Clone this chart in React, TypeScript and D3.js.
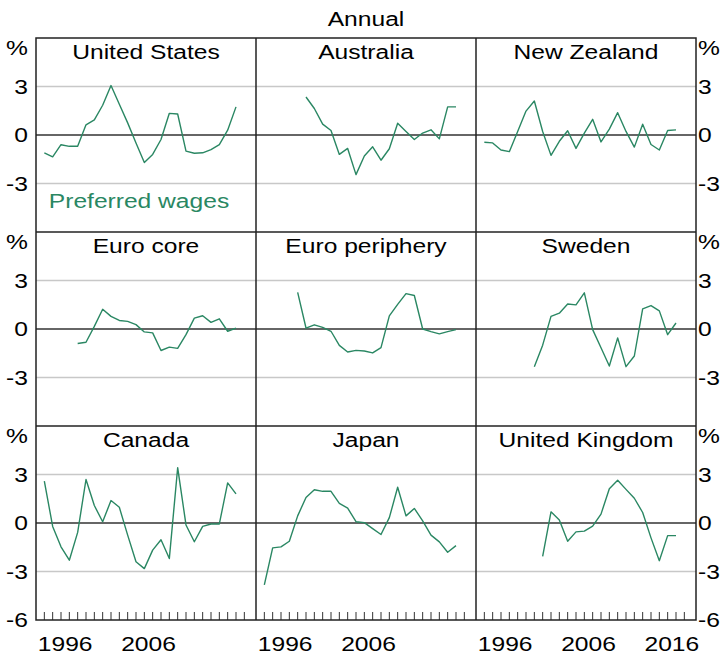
import * as d3 from "d3";
import { useEffect, useRef } from "react";

// annual real wage growth, %, one value per year from the start year
const usStart = 1994;
const usValues = [-1.1, -1.35, -0.6, -0.7, -0.7, 0.63, 0.93, 1.84, 3.06, 1.9, 0.75, -0.5, -1.7, -1.2, -0.28, 1.34, 1.3, -1.0, -1.13, -1.1, -0.9, -0.6, 0.3, 1.74];
const auStart = 1999;
const auValues = [2.35, 1.64, 0.67, 0.28, -1.2, -0.83, -2.45, -1.3, -0.73, -1.56, -0.85, 0.73, 0.22, -0.28, 0.12, 0.32, -0.24, 1.74, 1.74];
const nzStart = 1994;
const nzValues = [-0.45, -0.49, -0.93, -1.03, 0.22, 1.48, 2.1, 0.22, -1.26, -0.39, 0.26, -0.83, 0.12, 0.97, -0.43, 0.36, 1.38, 0.22, -0.75, 0.67, -0.59, -0.93, 0.28, 0.32];
const ecStart = 1998;
const ecValues = [-0.9, -0.82, 0.16, 1.22, 0.78, 0.53, 0.47, 0.27, -0.18, -0.24, -1.33, -1.12, -1.2, -0.35, 0.67, 0.82, 0.41, 0.63, -0.14, 0.06];
const epStart = 1998;
const epValues = [2.27, 0.06, 0.26, 0.1, -0.14, -1.01, -1.42, -1.32, -1.36, -1.48, -1.15, 0.81, 1.52, 2.19, 2.07, 0.0, -0.16, -0.3, -0.16, -0.04];
const seStart = 2000;
const seValues = [-2.33, -1.0, 0.78, 0.98, 1.55, 1.49, 2.24, -0.04, -1.16, -2.29, -0.55, -2.33, -1.67, 1.24, 1.45, 1.12, -0.35, 0.37];
const caStart = 1994;
const caValues = [2.59, -0.21, -1.47, -2.3, -0.58, 2.69, 1.08, 0.08, 1.39, 0.97, -0.75, -2.4, -2.82, -1.68, -1.04, -2.2, 3.42, -0.12, -1.16, -0.21, -0.06, -0.06, 2.48, 1.8];
const jpStart = 1994;
const jpValues = [-3.83, -1.54, -1.48, -1.13, 0.44, 1.58, 2.06, 1.96, 1.96, 1.21, 0.92, 0.08, 0.02, -0.35, -0.71, 0.33, 2.21, 0.44, 0.9, 0.13, -0.75, -1.17, -1.81, -1.4];
const ukStart = 2001;
const ukValues = [-2.06, 0.69, 0.19, -1.13, -0.55, -0.5, -0.19, 0.55, 2.12, 2.64, 2.08, 1.53, 0.65, -0.92, -2.33, -0.78, -0.78];

const panelNames = ["United States", "Australia", "New Zealand", "Euro core", "Euro periphery", "Sweden", "Canada", "Japan", "United Kingdom"];
const panelStarts = [usStart, auStart, nzStart, ecStart, epStart, seStart, caStart, jpStart, ukStart];
const panelValues = [usValues, auValues, nzValues, ecValues, epValues, seValues, caValues, jpValues, ukValues];

const yTicks = [3, 0, -3];
const yearTicks = d3.range(1994, 2019);
const yearLabelsShort = [1996, 2006];
const yearLabelsLong = [1996, 2006, 2016];

const lineColor = "#2a8763";
const font = "Liberation Sans, Arial, sans-serif";

const App = () => {
    const ref = useRef<SVGSVGElement>(null);

    useEffect(() => {
        renderChart(ref.current);
    }, []);

    return (
        <svg ref={ref} width="721" height="657"
            style={{ position: "absolute", left: 0, top: 0, background: "white" }} />
    );
};

const addText = (g, x, y, str, anchor, fill = "#000") => {
    g.append("text")
        .attr("transform", "translate(" + x + "," + y + ") scale(1.23,1)")
        .attr("text-anchor", anchor)
        .attr("font-family", font)
        .attr("font-size", 20)
        .attr("fill", fill)
        .text(str);
};

const renderChart = (node) => {
    const svg = d3.select(node);
    svg.selectAll("*").remove();

    const left0 = 36, top0 = 38;
    const panelW = 220, panelH = 194;

    const xScale = d3.scaleLinear().domain([1993, 2019.4]).range([0, panelW]);
    const yScale = d3.scaleLinear().domain([-6, 6]).range([panelH, 0]);

    addText(svg, left0 + 1.5 * panelW, 26, "Annual", "middle");

    const line = d3.line<number>()
        .x((d, i) => 0)
        .y(d => yScale(d));

    panelNames.forEach((name, p) => {
        const col = p % 3, row = Math.floor(p / 3);
        const g = svg.append("g")
            .attr("transform", "translate(" + (left0 + col * panelW) + "," + (top0 + row * panelH) + ")");

        // grid
        g.selectAll("line.grid")
            .data(yTicks)
            .enter()
            .append("line")
            .attr("x1", 0)
            .attr("x2", panelW)
            .attr("y1", d => yScale(d))
            .attr("y2", d => yScale(d))
            .attr("stroke", d => d === 0 ? "#333" : "#c8c8c8")
            .attr("stroke-width", d => d === 0 ? 1.3 : 1.5);

        // year ticks on the bottom row
        if (row === 2) {
            g.selectAll("line.tick")
                .data(yearTicks)
                .enter()
                .append("line")
                .attr("x1", d => xScale(d))
                .attr("x2", d => xScale(d))
                .attr("y1", panelH)
                .attr("y2", panelH - 8)
                .attr("stroke", "#333")
                .attr("stroke-width", 1);

            const labels = col === 2 ? yearLabelsLong : yearLabelsShort;
            labels.forEach(yr => addText(g, xScale(yr + 0.5), panelH + 31, String(yr), "middle"));
        }

        const start = panelStarts[p];
        const values = panelValues[p];
        line.x((d, i) => xScale(start + i));
        g.append("path")
            .attr("d", line(values))
            .attr("fill", "none")
            .attr("stroke", lineColor)
            .attr("stroke-width", 1.4)
            .attr("stroke-linejoin", "round");

        addText(g, panelW / 2, 21, name, "middle");

        if (p === 0) {
            addText(g, 103, 170, "Preferred wages", "middle", lineColor);
        }
    });

    // y labels both sides
    [0, 1, 2].forEach(row => {
        const top = top0 + row * panelH;
        addText(svg, 28, top + 17, "%", "end");
        addText(svg, 698, top + 17, "%", "start");
        const labels = row === 2 ? yTicks.concat([-6]) : yTicks;
        labels.forEach(v => {
            addText(svg, 28, top + yScale(v) + 7, String(v), "end");
            addText(svg, 698, top + yScale(v) + 7, String(v), "start");
        });
    });

    // panel frames
    const frame = svg.append("g");
    [1, 2].forEach(c => {
        frame.append("line")
            .attr("x1", left0 + c * panelW).attr("x2", left0 + c * panelW)
            .attr("y1", top0).attr("y2", top0 + 3 * panelH)
            .attr("stroke", "#222").attr("stroke-width", 1.5);
        frame.append("line")
            .attr("x1", left0).attr("x2", left0 + 3 * panelW)
            .attr("y1", top0 + c * panelH).attr("y2", top0 + c * panelH)
            .attr("stroke", "#222").attr("stroke-width", 1.5);
    });
    frame.append("rect")
        .attr("x", left0).attr("y", top0)
        .attr("width", 3 * panelW).attr("height", 3 * panelH)
        .attr("fill", "none")
        .attr("stroke", "#222").attr("stroke-width", 1.5);
};

export default App;
